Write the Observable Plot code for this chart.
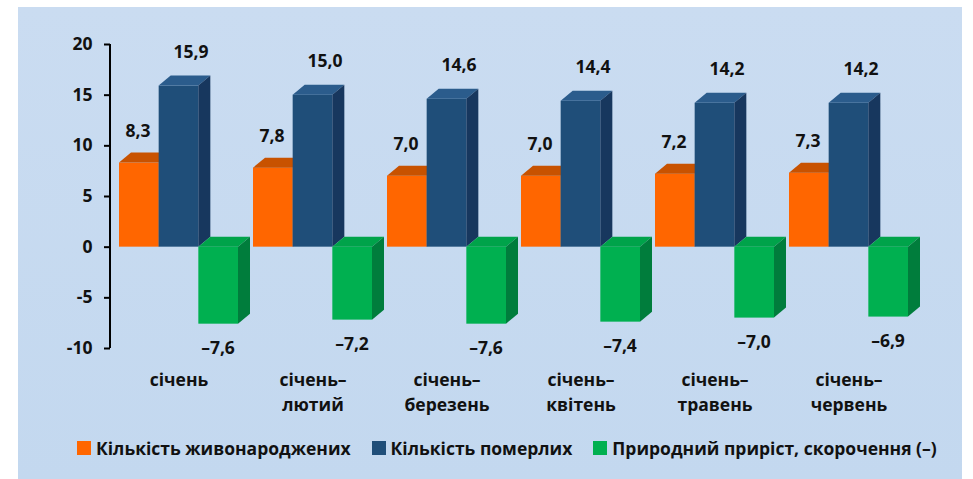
<!DOCTYPE html>
<html>
<head>
<meta charset="utf-8">
<script src="https://cdn.jsdelivr.net/npm/d3@7"></script>
<script src="https://cdn.jsdelivr.net/npm/@observablehq/plot@0.6"></script>
<style>
  html, body { margin: 0; padding: 0; background: #ffffff; }
  body { width: 973px; height: 479px; position: relative; overflow: hidden; font-family: "Open Sans", sans-serif; }
  #panel { position: absolute; left: 18px; top: 7px; width: 944px; height: 472px;
           background: linear-gradient(to bottom, #cadcf1 0%, #c3d8ef 100%); }
  #chart { position: absolute; left: 0; top: 0; }
  #legend { position: absolute; left: 77px; top: 436px; display: flex; gap: 21px; align-items: center;
            font-weight: 700; font-size: 17.5px; color: #111; }
  .item { display: flex; align-items: center; gap: 5px; white-space: nowrap; }
  .sw { width: 14px; height: 14px; display: inline-block; }
</style>
</head>
<body>
<div id="panel"></div>
<div id="chart"></div>
<div id="legend"></div>
<script>
// ---- data ----
const months = ["січень", "січень–\nлютий", "січень–\nберезень", "січень–\nквітень", "січень–\nтравень", "січень–\nчервень"];
const births = [8.3, 7.8, 7.0, 7.0, 7.2, 7.3];
const deaths = [15.9, 15.0, 14.6, 14.4, 14.2, 14.2];
const growth = [-7.6, -7.2, -7.6, -7.4, -7.0, -6.9];
const seriesNames = ["Кількість живонароджених", "Кількість померлих", "Природний приріст, скорочення (–)"];
const yTicks = [-10, -5, 0, 5, 10, 15, 20];

const palette = [
  {front: "#ff6600", top: "#c85200", side: "#b34a00"},
  {front: "#1f4e79", top: "#2b5c8c", side: "#17375e"},
  {front: "#00b050", top: "#00a34a", side: "#007d3c"}
];

const seriesValues = [births, deaths, growth];
const rows = [];
months.forEach((m, i) => seriesValues.forEach((vals, j) => rows.push({month: m, i, s: j, value: vals[i]})));

const fmt = v => d3.format(".1f")(Math.abs(v)).replace(".", ",");
const label = v => (v < 0 ? "–" : "") + fmt(v);

const DX = 12, DY = -10;

// 3D bars drawn through Plot's scales
function bars3d(index, scales, values, dimensions) {
  const sx = scales.x, sy = scales.y;
  const bw = typeof sx.bandwidth === "function" ? sx.bandwidth() : sx.bandwidth;
  const w = bw / 3;
  const g = d3.create("svg:g");
  // y axis line
  g.append("line")
    .attr("x1", dimensions.marginLeft).attr("x2", dimensions.marginLeft)
    .attr("y1", sy(yTicks[yTicks.length - 1])).attr("y2", sy(yTicks[0]))
    .attr("stroke", "#000").attr("stroke-width", 2);
  const pts = a => a.map(p => p.join(",")).join(" ");
  for (let s = 0; s < 3; s++) {
    for (const r of rows.filter(d => d.s === s)) {
      const c = palette[s];
      const x0 = sx(r.month) + s * w, x1 = x0 + w;
      const y0 = sy(0), yv = sy(r.value);
      const yTop = Math.min(y0, yv), yBot = Math.max(y0, yv);
      // front
      g.append("rect").attr("x", x0).attr("y", yTop).attr("width", w).attr("height", yBot - yTop).attr("fill", c.front);
      // top face
      g.append("polygon").attr("points", pts([[x0, yTop], [x1, yTop], [x1 + DX, yTop + DY], [x0 + DX, yTop + DY]])).attr("fill", c.top);
      // side face
      g.append("polygon").attr("points", pts([[x1, yTop], [x1 + DX, yTop + DY], [x1 + DX, yBot + DY], [x1, yBot]])).attr("fill", c.side);
    }
  }
  return g.node();
}

const textStyle = {fontSize: 17.5, fontWeight: 700, fill: "#111"};

const plot = Plot.plot({
  width: 973,
  height: 425,
  marginLeft: 110,
  marginRight: 56,
  marginTop: 44,
  marginBottom: 77,
  style: {background: "transparent", fontFamily: "'Open Sans', sans-serif", overflow: "visible"},
  x: {type: "band", domain: months, paddingInner: 0.112, paddingOuter: 0.067, axis: null},
  y: {domain: [-10, 20], axis: null, label: null},
  marks: [
    bars3d,
    Plot.axisY({ticks: yTicks, label: null, tickSize: 6, tickPadding: 12, tickFormat: d => String(d), fontSize: 17.5, fontWeight: 700, stroke: "#000", strokeWidth: 2, color: "#111"}),
    Plot.text(rows.filter(d => d.s === 0), {x: "month", y: "value", text: d => label(d.value), dx: -41, dy: -32, ...textStyle}),
    Plot.text(rows.filter(d => d.s === 1), {x: "month", y: "value", text: d => label(d.value), dx: 12, dy: -34, ...textStyle}),
    Plot.text(rows.filter(d => d.s === 2), {x: "month", y: "value", text: d => label(d.value), dx: 39, dy: 24, ...textStyle}),
    Plot.text(months, {x: d => d, frameAnchor: "bottom", text: d => d, lineAnchor: "top", dy: 20, lineHeight: 1.43, ...textStyle})
  ]
});
document.getElementById("chart").appendChild(plot);

// legend
const legend = d3.select("#legend");
seriesNames.forEach((name, j) => {
  const it = legend.append("div").attr("class", "item");
  it.append("span").attr("class", "sw").style("background", palette[j].front);
  it.append("span").text(name);
});
</script>
</body>
</html>
